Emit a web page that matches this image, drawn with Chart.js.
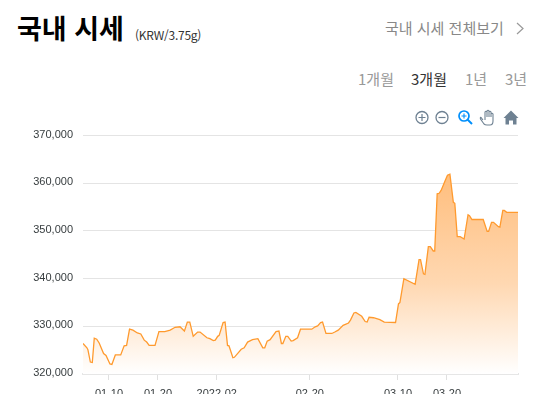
<!DOCTYPE html>
<html lang="ko">
<head>
<meta charset="utf-8">
<title>국내 시세</title>
<script src="https://cdn.jsdelivr.net/npm/chart.js@4"></script>
<style>
html, body { margin: 0; padding: 0; background: #fff; }
body { width: 533px; height: 394px; overflow: hidden; position: relative; font-family: "Noto Sans CJK KR", "Noto Sans", sans-serif; }
.txt { position: absolute; white-space: nowrap; line-height: 1; }
#title { left: 17px; top: 14px; font-size: 27px; font-weight: 700; color: #000; }
#unit { left: 135px; top: 29px; font-size: 12px; color: #333; letter-spacing: -0.25px; }
#more { left: 385px; top: 20px; font-size: 15px; color: #888; }
#arrow { left: 514px; top: 18px; }
.tab { top: 71px; font-size: 15px; color: #999; }
.tab.on { color: #333; }
#toolbar { position: absolute; left: 412px; top: 106px; }
canvas { position: absolute; left: 0; top: 119px; }
</style>
</head>
<body>
<div class="txt" id="title">국내 시세</div>
<div class="txt" id="unit">(KRW/3.75g)</div>
<div class="txt" id="more">국내 시세 전체보기</div>
<svg class="txt" id="arrow" width="12" height="20"><path d="M3 5 L9 10.500 L3 16" fill="none" stroke="#999" stroke-width="1.200"/></svg>
<div class="txt tab" style="left:358px">1개월</div>
<div class="txt tab on" style="left:411px">3개월</div>
<div class="txt tab" style="left:465px">1년</div>
<div class="txt tab" style="left:505px">3년</div>

<svg id="toolbar" width="112" height="24" fill="none">
  <circle cx="10" cy="11.500" r="6" stroke="#6e8192" stroke-width="1.300"/>
  <path d="M10 8 V15 M6.500 11.500 H13.500" stroke="#6e8192" stroke-width="1.200"/>
  <circle cx="30" cy="11.500" r="6" stroke="#6e8192" stroke-width="1.300"/>
  <path d="M26.500 11.500 H33.500" stroke="#6e8192" stroke-width="1.200"/>
  <circle cx="52" cy="10" r="5" stroke="#008ffb" stroke-width="1.700"/>
  <path d="M52 7.500 V12.500 M49.500 10 H54.500" stroke="#008ffb" stroke-width="1.100"/>
  <path d="M55.500 13.500 L60 18" stroke="#008ffb" stroke-width="2"/>
  <path d="M71 14 L69 11.500 Q68 11 68.500 13 L72 18 Q73 19 75 19 H78 Q81 19 81 15 V8 Q80 6.500 79 8 V11 M79 11 V6 Q78 4.500 77 6 V11 M77 11 V5 Q76 3.500 75 5 V11 M75 11 V6 Q74 4.500 73 6 V14" stroke="#6e8192" stroke-width="1.100"/>
  <path d="M99 4.500 L106.500 12 H104.500 V18.500 H101 V14.500 H97 V18.500 H93.500 V12 H91.500 Z" fill="#6e8192"/>
</svg>

<canvas id="chart" width="533" height="295"></canvas>

<script>
const days = [
  -0.3, 0.5, 0.7, 1.2, 1.6, 2.0, 2.5, 3.0, 3.9, 4.4, 5.2, 5.6, 6.3, 7.4, 8.1, 8.6, 9.2, 9.9, 10.8, 11.5,
  12.2, 12.7, 13.2, 14.4, 15.2, 16.4, 17.5, 18.5, 19.5, 20.4, 21.0, 21.5, 22.2, 23.1, 23.6, 25.0, 25.6, 26.3, 26.7, 27.2,
  27.5, 28.3, 28.7, 29.2, 29.5, 30.3, 30.6, 32.0, 32.6, 33.3, 34.3, 35.4, 36.4, 36.8, 37.3, 37.9, 39.1, 39.7, 40.2, 40.5,
  41.1, 41.5, 42.2, 42.6, 43.5, 44.1, 46.4, 47.1, 47.6, 48.2, 48.6, 49.3, 50.5, 51.1, 51.8, 52.8, 53.9, 54.3, 55.0, 55.4,
  56.6, 57.3, 57.7, 58.1, 59.0, 60.3, 61.2, 63.5, 64.1, 64.4, 65.2, 67.5, 68.3, 68.6, 69.2, 69.5, 70.2, 70.6, 71.2, 71.5,
  72.0, 72.4, 72.8, 73.6, 74.1, 74.6, 75.3, 75.6, 76.1, 76.7, 77.5, 78.3, 78.6, 79.1, 81.4, 82.2, 82.5, 83.1, 83.5, 84.5,
  84.8, 85.4, 85.7, 86.2, 88.5
];
const prices = [
  326400, 325500, 325100, 322500, 322400, 327500, 327300, 326500, 324300, 323900, 322100, 322000, 324000, 324000, 325900, 326000, 329400, 329200, 328600, 328400,
  327100, 326700, 326000, 326000, 328900, 328900, 329200, 329800, 329900, 329000, 330900, 330900, 327900, 328800, 328800, 327600, 327400, 327000, 327100, 327900,
  328100, 330800, 330900, 326000, 325900, 323400, 323500, 325200, 325500, 326700, 327200, 327400, 325500, 325500, 326900, 327200, 328900, 329000, 326400, 326400,
  327900, 327900, 326900, 327000, 327600, 329400, 329400, 329900, 330100, 330800, 330900, 328500, 328500, 328800, 329200, 330200, 330700, 331300, 332800, 332900,
  332100, 331000, 330900, 331900, 331800, 331400, 330900, 330800, 334700, 335000, 340000, 338800, 344000, 344000, 341000, 340900, 346700, 346700, 345800, 345800,
  357800, 357900, 358500, 360500, 361700, 361900, 356000, 355800, 348800, 348800, 348300, 353400, 353200, 352400, 352400, 349900, 349900, 351800, 351800, 350900,
  350800, 354300, 354300, 353900, 353900
];
const tickDays = [5, 15, 27, 46, 64, 74];
const tickLabels = ["01-10", "01-20", "2022-02", "02-20", "03-10", "03-20"];

const points = days.map((d, i) => ({ x: d, y: prices[i] }));
const font = { family: '"Liberation Sans", Arial, sans-serif', size: 11 };

function areaFill(context) {
  const chart = context.chart;
  if (!chart.chartArea) return "rgba(255,154,46,0.4)";
  const top = chart.scales.y.getPixelForValue(Math.max(...prices));
  const g = chart.ctx.createLinearGradient(0, top, 0, chart.chartArea.bottom);
  g.addColorStop(0, "rgba(255,190,125,1)");
  g.addColorStop(0.55, "rgba(255,216,178,1)");
  g.addColorStop(1, "rgba(255,255,255,1)");
  return g;
}

new Chart(document.getElementById("chart"), {
  type: "line",
  data: {
    datasets: [{
      data: points,
      borderColor: "#ff9a2e",
      borderWidth: 1.3,
      backgroundColor: areaFill,
      fill: "start",
      pointRadius: 0,
      tension: 0
    }]
  },
  options: {
    responsive: false,
    animation: false,
    layout: { padding: { top: 15, right: 15 } },
    plugins: { legend: { display: false }, tooltip: { enabled: false } },
    scales: {
      x: {
        type: "linear",
        min: -0.3,
        max: 88.5,
        afterBuildTicks: scale => { scale.ticks = tickDays.map(v => ({ value: v })); },
        afterFit: scale => { scale.height = 40; },
        grid: { drawOnChartArea: false, drawTicks: true, tickLength: 6, tickColor: "#e0e0e0" },
        border: { color: "#e6e6e6", width: 2 },
        ticks: {
          autoSkip: false,
          maxRotation: 0,
          padding: 7,
          color: "#373d3f",
          font: font,
          callback: value => tickLabels[tickDays.indexOf(value)]
        }
      },
      y: {
        min: 320000,
        max: 370000,
        afterFit: scale => { scale.width = 83; },
        grid: { color: "#e4e4e4", drawTicks: false },
        border: { display: false },
        ticks: {
          stepSize: 10000,
          padding: 10,
          labelOffset: -1,
          color: "#373d3f",
          font: font,
          callback: value => value.toLocaleString("en-US")
        }
      }
    }
  }
});
</script>
</body>
</html>
